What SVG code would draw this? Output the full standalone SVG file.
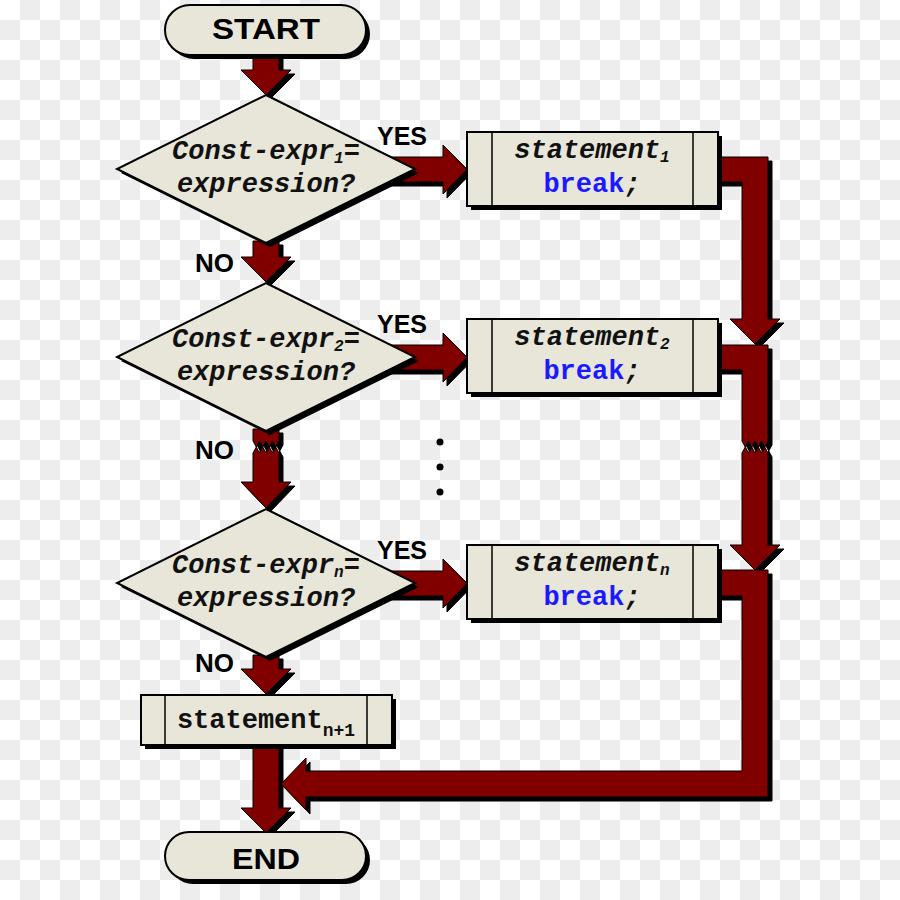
<svg xmlns="http://www.w3.org/2000/svg" xmlns:xlink="http://www.w3.org/1999/xlink" width="900" height="900" viewBox="0 0 900 900">
<style>
.arr{fill:#800000;stroke:#000;stroke-width:1}
.sh{fill:#000;stroke:#000;stroke-width:1}
.node{fill:#e8e6d8;stroke:#000;stroke-width:2}
.ln{stroke:#000;stroke-width:1.5}
.mono{font-family:"Liberation Mono","Courier New",monospace;font-weight:bold;font-size:27px;fill:#111}
.it{font-style:italic}
.kw{fill:#1a1aff;font-style:normal}
.lbl{font-family:"Liberation Sans",Arial,sans-serif;font-weight:bold;fill:#000}
.dot{fill:#000}
</style>
<defs>
<pattern id="chk" width="40" height="40" patternUnits="userSpaceOnUse">
<rect width="40" height="40" fill="#fff"/>
<rect x="20" y="0" width="20" height="20" fill="#ededed"/>
<rect x="0" y="20" width="20" height="20" fill="#ededed"/>
</pattern>
<polygon id="a1" points="253,55 279,55 279,70 291,70 266,95 241,70 253,70"/>
<polygon id="a2" points="253,241 279,241 279,257 291,257 266,282 241,257 253,257"/>
<polygon id="a3t" points="253,429 279,429 279,441 275.75,447 272.5,441 269.25,447 266,441 262.75,447 259.5,441 256.25,447 253,441"/>
<polygon id="a3b" points="253,453 256.25,447 259.5,453 262.75,447 266,453 269.25,447 272.5,453 275.75,447 279,453 279,482 291,482 266,508 241,482 253,482"/>
<polygon id="a4" points="253,655 279,655 279,669 291,669 266,694 241,669 253,669"/>
<polygon id="a5" points="253,743 279,743 279,808 291,808 266,833 241,808 253,808"/>
<polygon id="y1" points="385,157 443,157 443,145 467,169.5 443,194 443,182 385,182"/>
<polygon id="y2" points="385,345 443,345 443,333 467,357.5 443,382 443,370 385,370"/>
<polygon id="y3" points="385,571 443,571 443,559 467,583.5 443,608 443,596 385,596"/>
<polygon id="c1" points="716,157 768,157 768,319 780,319 755,344 730,319 742,319 742,182 716,182"/>
<polygon id="c2t" points="716,345 768,345 768,441 764.75,447 761.5,441 758.25,447 755,441 751.75,447 748.5,441 745.25,447 742,441 742,370 716,370"/>
<polygon id="c2b" points="742,453 745.25,447 748.5,453 751.75,447 755,453 758.25,447 761.5,453 764.75,447 768,453 768,545 780,545 755,570 730,545 742,545"/>
<polygon id="c3" points="716,570 768,570 768,797 306,797 306,810 281,784 306,758 306,771 742,771 742,596 716,596"/>
</defs>
<rect width="900" height="900" fill="url(#chk)"/>

<g id="connectors">
<g transform="translate(4,4)">
<use xlink:href="#a1" class="sh"/><use xlink:href="#a2" class="sh"/><use xlink:href="#a3t" class="sh"/><use xlink:href="#a3b" class="sh"/><use xlink:href="#a4" class="sh"/><use xlink:href="#a5" class="sh"/>
<use xlink:href="#y1" class="sh"/><use xlink:href="#y2" class="sh"/><use xlink:href="#y3" class="sh"/>
<use xlink:href="#c1" class="sh"/><use xlink:href="#c2t" class="sh"/><use xlink:href="#c2b" class="sh"/><use xlink:href="#c3" class="sh"/>
</g>
<use xlink:href="#c3" class="arr"/><use xlink:href="#c2b" class="arr"/><use xlink:href="#c2t" class="arr"/><use xlink:href="#c1" class="arr"/>
<use xlink:href="#y1" class="arr"/><use xlink:href="#y2" class="arr"/><use xlink:href="#y3" class="arr"/>
<use xlink:href="#a1" class="arr"/><use xlink:href="#a2" class="arr"/><use xlink:href="#a3t" class="arr"/><use xlink:href="#a3b" class="arr"/><use xlink:href="#a4" class="arr"/><use xlink:href="#a5" class="arr"/>
</g>

<g id="start">
<rect x="169" y="9" width="201" height="50" rx="25" fill="#000"/>
<rect x="165" y="5" width="201" height="50" rx="25" class="node"/>
<text x="266" y="39" text-anchor="middle" class="lbl" font-size="30" textLength="108" lengthAdjust="spacingAndGlyphs">START</text>
</g>

<g id="decision1">
<polygon points="270,99 419,173 270,247 121,173" fill="#000"/>
<polygon points="266,95 415,169 266,243 117,169" class="node"/>
<text x="266" y="159" text-anchor="middle" class="mono it">Const-expr<tspan font-size="16" dy="4">1</tspan><tspan dy="-4">=</tspan></text>
<text x="266" y="192" text-anchor="middle" class="mono it">expression?</text>
</g>

<g id="decision2">
<polygon points="270,287 419,361 270,435 121,361" fill="#000"/>
<polygon points="266,283 415,357 266,431 117,357" class="node"/>
<text x="266" y="347" text-anchor="middle" class="mono it">Const-expr<tspan font-size="16" dy="4">2</tspan><tspan dy="-4">=</tspan></text>
<text x="266" y="380" text-anchor="middle" class="mono it">expression?</text>
</g>

<g id="decision3">
<polygon points="270,513 419,587 270,661 121,587" fill="#000"/>
<polygon points="266,509 415,583 266,657 117,583" class="node"/>
<text x="266" y="573" text-anchor="middle" class="mono it">Const-expr<tspan font-size="16" dy="4">n</tspan><tspan dy="-4">=</tspan></text>
<text x="266" y="606" text-anchor="middle" class="mono it">expression?</text>
</g>

<g id="statement1">
<rect x="471" y="136" width="251" height="74" fill="#000"/>
<rect x="467" y="132" width="251" height="74" class="node"/>
<line x1="492" y1="132" x2="492" y2="206" class="ln"/>
<line x1="693" y1="132" x2="693" y2="206" class="ln"/>
<text x="592" y="158" text-anchor="middle" class="mono it">statement<tspan font-size="16" dy="4">1</tspan></text>
<text x="592" y="192" text-anchor="middle" class="mono"><tspan class="kw">break</tspan><tspan class="it">;</tspan></text>
</g>

<g id="statement2">
<rect x="471" y="323" width="251" height="74" fill="#000"/>
<rect x="467" y="319" width="251" height="74" class="node"/>
<line x1="492" y1="319" x2="492" y2="393" class="ln"/>
<line x1="693" y1="319" x2="693" y2="393" class="ln"/>
<text x="592" y="345" text-anchor="middle" class="mono it">statement<tspan font-size="16" dy="4">2</tspan></text>
<text x="592" y="379" text-anchor="middle" class="mono"><tspan class="kw">break</tspan><tspan class="it">;</tspan></text>
</g>

<g id="statement3">
<rect x="471" y="549" width="251" height="74" fill="#000"/>
<rect x="467" y="545" width="251" height="74" class="node"/>
<line x1="492" y1="545" x2="492" y2="619" class="ln"/>
<line x1="693" y1="545" x2="693" y2="619" class="ln"/>
<text x="592" y="571" text-anchor="middle" class="mono it">statement<tspan font-size="16" dy="4">n</tspan></text>
<text x="592" y="605" text-anchor="middle" class="mono"><tspan class="kw">break</tspan><tspan class="it">;</tspan></text>
</g>

<g id="statementn1">
<rect x="145" y="699" width="251" height="50" fill="#000"/>
<rect x="141" y="695" width="251" height="50" class="node"/>
<line x1="165" y1="695" x2="165" y2="745" class="ln"/>
<line x1="367" y1="695" x2="367" y2="745" class="ln"/>
<text x="266" y="728" text-anchor="middle" class="mono">statement<tspan font-size="18" dy="8">n+1</tspan></text>
</g>

<g id="end">
<rect x="169" y="836" width="201" height="48" rx="24" fill="#000"/>
<rect x="165" y="832" width="201" height="48" rx="24" class="node"/>
<text x="266" y="869" text-anchor="middle" class="lbl" font-size="30" textLength="68" lengthAdjust="spacingAndGlyphs">END</text>
</g>

<g id="labels">
<text x="377" y="145" class="lbl" font-size="25">YES</text>
<text x="377" y="333" class="lbl" font-size="25">YES</text>
<text x="377" y="559" class="lbl" font-size="25">YES</text>
<text x="195" y="272" class="lbl" font-size="26">NO</text>
<text x="195" y="459" class="lbl" font-size="26">NO</text>
<text x="195" y="672" class="lbl" font-size="26">NO</text>
</g>

<g id="ellipsis">
<circle cx="440" cy="442" r="3.5" class="dot"/>
<circle cx="440" cy="467" r="3.5" class="dot"/>
<circle cx="440" cy="492" r="3.5" class="dot"/>
</g>
</svg>
